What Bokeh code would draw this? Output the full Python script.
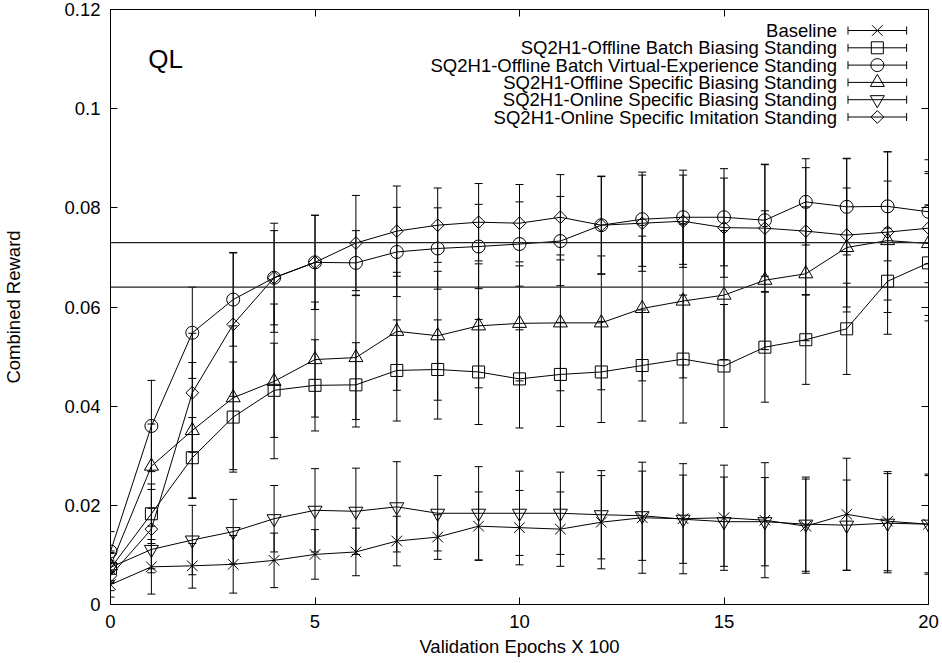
from bokeh.plotting import figure
from bokeh.models import (Range1d, LinearAxis, FixedTicker, CustomJSTickFormatter,
                          Whisker, TeeHead, ColumnDataSource, Span, Label)
from bokeh.embed import file_html
from bokeh.resources import INLINE
import math

# ---- data: combined reward per validation epoch (x 100) ----
epochs = list(range(21))

baseline = [0.0040, 0.0076, 0.0078, 0.0081, 0.0089, 0.0101, 0.0106, 0.0128, 0.0136, 0.0158, 0.0155,
            0.0152, 0.0166, 0.0175, 0.0173, 0.0175, 0.0170, 0.0158, 0.0182, 0.0168, 0.0162]
baseline_err = [0.0025, 0.0055, 0.0045, 0.0058, 0.0055, 0.0050, 0.0048, 0.0050, 0.0045, 0.0069, 0.0075,
                0.0075, 0.0094, 0.0112, 0.0111, 0.0106, 0.0116, 0.0095, 0.0113, 0.0100, 0.0101]

batch_biasing = [0.0073, 0.0183, 0.0296, 0.0378, 0.0432, 0.0442, 0.0443, 0.0472, 0.0474, 0.0469, 0.0455,
                 0.0464, 0.0469, 0.0482, 0.0495, 0.0481, 0.0519, 0.0534, 0.0556, 0.0652, 0.0689]
batch_biasing_err = [0.0030, 0.0060, 0.0081, 0.0111, 0.0095, 0.0092, 0.0085, 0.0102, 0.0100, 0.0106, 0.0099,
                     0.0105, 0.0102, 0.0112, 0.0129, 0.0124, 0.0111, 0.0090, 0.0092, 0.0107, 0.0117]

virtual_exp = [0.0107, 0.0360, 0.0548, 0.0615, 0.0659, 0.0690, 0.0689, 0.0711, 0.0718, 0.0722, 0.0727,
               0.0733, 0.0765, 0.0777, 0.0781, 0.0781, 0.0775, 0.0812, 0.0802, 0.0803, 0.0792]
virtual_exp_err = [0.0040, 0.0092, 0.0092, 0.0094, 0.0095, 0.0095, 0.0065, 0.0090, 0.0082, 0.0085, 0.0085,
                   0.0090, 0.0098, 0.0095, 0.0095, 0.0098, 0.0113, 0.0087, 0.0097, 0.0110, 0.0105]

specific_biasing = [0.0078, 0.0279, 0.0351, 0.0417, 0.0450, 0.0494, 0.0498, 0.0551, 0.0542, 0.0562, 0.0567,
                    0.0568, 0.0568, 0.0597, 0.0612, 0.0624, 0.0654, 0.0667, 0.0720, 0.0734, 0.0728]
specific_biasing_err = [0.0030, 0.0085, 0.0137, 0.0145, 0.0156, 0.0116, 0.0125, 0.0119, 0.0130, 0.0125, 0.0116,
                        0.0137, 0.0135, 0.0146, 0.0155, 0.0130, 0.0140, 0.0135, 0.0120, 0.0120, 0.0145]

online_biasing = [0.0075, 0.0111, 0.0130, 0.0147, 0.0173, 0.0190, 0.0188, 0.0197, 0.0184, 0.0184, 0.0184,
                  0.0184, 0.0181, 0.0179, 0.0172, 0.0167, 0.0167, 0.0162, 0.0160, 0.0164, 0.0162]
online_biasing_err = [0.0030, 0.0047, 0.0070, 0.0065, 0.0067, 0.0084, 0.0087, 0.0091, 0.0076, 0.0094, 0.0085,
                      0.0083, 0.0089, 0.0090, 0.0089, 0.0090, 0.0089, 0.0095, 0.0091, 0.0100, 0.0098]

online_imitation = [0.0058, 0.0152, 0.0427, 0.0565, 0.0659, 0.0690, 0.0729, 0.0753, 0.0765, 0.0771, 0.0769,
                    0.0781, 0.0765, 0.0769, 0.0773, 0.0760, 0.0759, 0.0753, 0.0745, 0.0751, 0.0759]
online_imitation_err = [0.0030, 0.0080, 0.0120, 0.0145, 0.0110, 0.0095, 0.0096, 0.0091, 0.0075, 0.0078, 0.0078,
                        0.0086, 0.0099, 0.0097, 0.0093, 0.0100, 0.0128, 0.0128, 0.0155, 0.0162, 0.0110]

reference_levels = [0.073, 0.064]

labels = ["Baseline",
          "SQ2H1-Offline Batch Biasing Standing",
          "SQ2H1-Offline Batch Virtual-Experience Standing",
          "SQ2H1-Offline Specific Biasing Standing",
          "SQ2H1-Online Specific Biasing Standing",
          "SQ2H1-Online Specific Imitation Standing"]

x_ticks = [0, 5, 10, 15, 20]
y_ticks = [0, 0.02, 0.04, 0.06, 0.08, 0.1, 0.12]

# ---- layout ----
W, H = 942, 663
LEFT, RIGHT, TOP, BOTTOM = 105, 14, 9, 59
FRAME_W = W - LEFT - RIGHT
FRAME_H = H - TOP - BOTTOM
X0, X1, Y0, Y1 = 0, 20, 0, 0.12
FONT = "Liberation Sans"
FS = "18.5px"


def to_x(px):
    return X0 + (px - LEFT) * (X1 - X0) / FRAME_W


def to_y(py):
    return Y1 - (py - TOP) * (Y1 - Y0) / FRAME_H


p = figure(width=W, height=H, x_range=Range1d(X0, X1), y_range=Range1d(Y0, Y1),
           output_backend="svg", toolbar_location=None,
           min_border_left=LEFT, min_border_right=RIGHT,
           min_border_top=TOP, min_border_bottom=BOTTOM)
p.grid.visible = False
p.outline_line_color = "black"
p.outline_line_width = 1
p.background_fill_color = "white"
p.border_fill_color = "white"

fmt = CustomJSTickFormatter(code="return String(Math.round(tick * 100) / 100);")

for ax, ticks in ((p.xaxis[0], x_ticks), (p.yaxis[0], y_ticks)):
    ax.ticker = FixedTicker(ticks=ticks, minor_ticks=[])
    ax.formatter = fmt
    ax.major_tick_in = 7
    ax.major_tick_out = 0
    ax.minor_tick_in = 0
    ax.minor_tick_out = 0
    ax.axis_line_color = "black"
    ax.major_tick_line_color = "black"
    ax.major_label_text_font = FONT
    ax.major_label_text_font_size = FS
    ax.major_label_text_color = "black"
    ax.major_label_standoff = 10
    ax.axis_label_text_font = FONT
    ax.axis_label_text_font_size = FS
    ax.axis_label_text_font_style = "normal"
    ax.axis_label_text_color = "black"

p.xaxis.axis_label = "Validation Epochs X 100"
p.xaxis.axis_label_standoff = 5
p.yaxis.axis_label = "Combined Reward"
p.yaxis.axis_label_standoff = 37

# mirrored tick marks (no labels) on the top and right edges
blank = CustomJSTickFormatter(code="return '';")
for side, ticks in (("above", x_ticks), ("right", y_ticks)):
    mirror = LinearAxis(ticker=FixedTicker(ticks=ticks, minor_ticks=[]), formatter=blank,
                        major_label_text_font_size="1px", major_label_standoff=0,
                        major_tick_in=7, major_tick_out=0, minor_tick_in=0, minor_tick_out=0,
                        axis_line_color="black", major_tick_line_color="black")
    p.add_layout(mirror, side)

for lvl in reference_levels:
    p.add_layout(Span(location=lvl, dimension="width", line_color="#222222", line_width=1.2))

series = [
    (baseline, baseline_err, "x", 15, 0),
    (batch_biasing, batch_biasing_err, "square", 12, 0),
    (virtual_exp, virtual_exp_err, "circle", 13, 0),
    (specific_biasing, specific_biasing_err, "triangle", 14, 0),
    (online_biasing, online_biasing_err, "inverted_triangle", 14, 0),
    (online_imitation, online_imitation_err, "square", 9, math.pi / 4),
]

for vals, errs, marker, size, angle in series:
    src = ColumnDataSource(dict(x=epochs, y=vals,
                                lower=[v - e for v, e in zip(vals, errs)],
                                upper=[v + e for v, e in zip(vals, errs)]))
    p.add_layout(Whisker(base="x", lower="lower", upper="upper", source=src, dimension="height",
                         line_color="black", line_width=1,
                         lower_head=TeeHead(size=8, line_color="black", line_width=1),
                         upper_head=TeeHead(size=8, line_color="black", line_width=1)))
    p.line("x", "y", source=src, line_color="black", line_width=1)
    p.scatter("x", "y", source=src, marker=marker, size=size, angle=angle,
              fill_color=None, line_color="black", line_width=1)

# key in the top-right corner: label, then a sample error-bar line with marker
KEY_TEXT_RIGHT, KEY_L, KEY_R = 836, 847, 906
KEY_ROW0, KEY_DY, CAP = 30, 17.3, 4
for i, (label, (_, _, marker, size, angle)) in enumerate(zip(labels, series)):
    ry = KEY_ROW0 + i * KEY_DY
    yv = to_y(ry)
    p.add_layout(Label(x=to_x(KEY_TEXT_RIGHT), y=yv, text=label, text_align="right",
                       text_baseline="middle", text_font=FONT, text_font_size=FS,
                       text_color="black"))
    p.segment(x0=[to_x(KEY_L), to_x(KEY_L), to_x(KEY_R)],
              y0=[yv, to_y(ry - CAP), to_y(ry - CAP)],
              x1=[to_x(KEY_R), to_x(KEY_L), to_x(KEY_R)],
              y1=[yv, to_y(ry + CAP), to_y(ry + CAP)],
              line_color="black", line_width=1)
    p.scatter(x=[to_x((KEY_L + KEY_R) / 2)], y=[yv], marker=marker, size=size, angle=angle,
              fill_color=None, line_color="black", line_width=1)

p.add_layout(Label(x=to_x(143), y=to_y(58), text="QL", text_align="left", text_baseline="middle",
                   text_font=FONT, text_font_size="26px", text_color="black"))

open("out.html", "w").write(file_html(p, INLINE))
